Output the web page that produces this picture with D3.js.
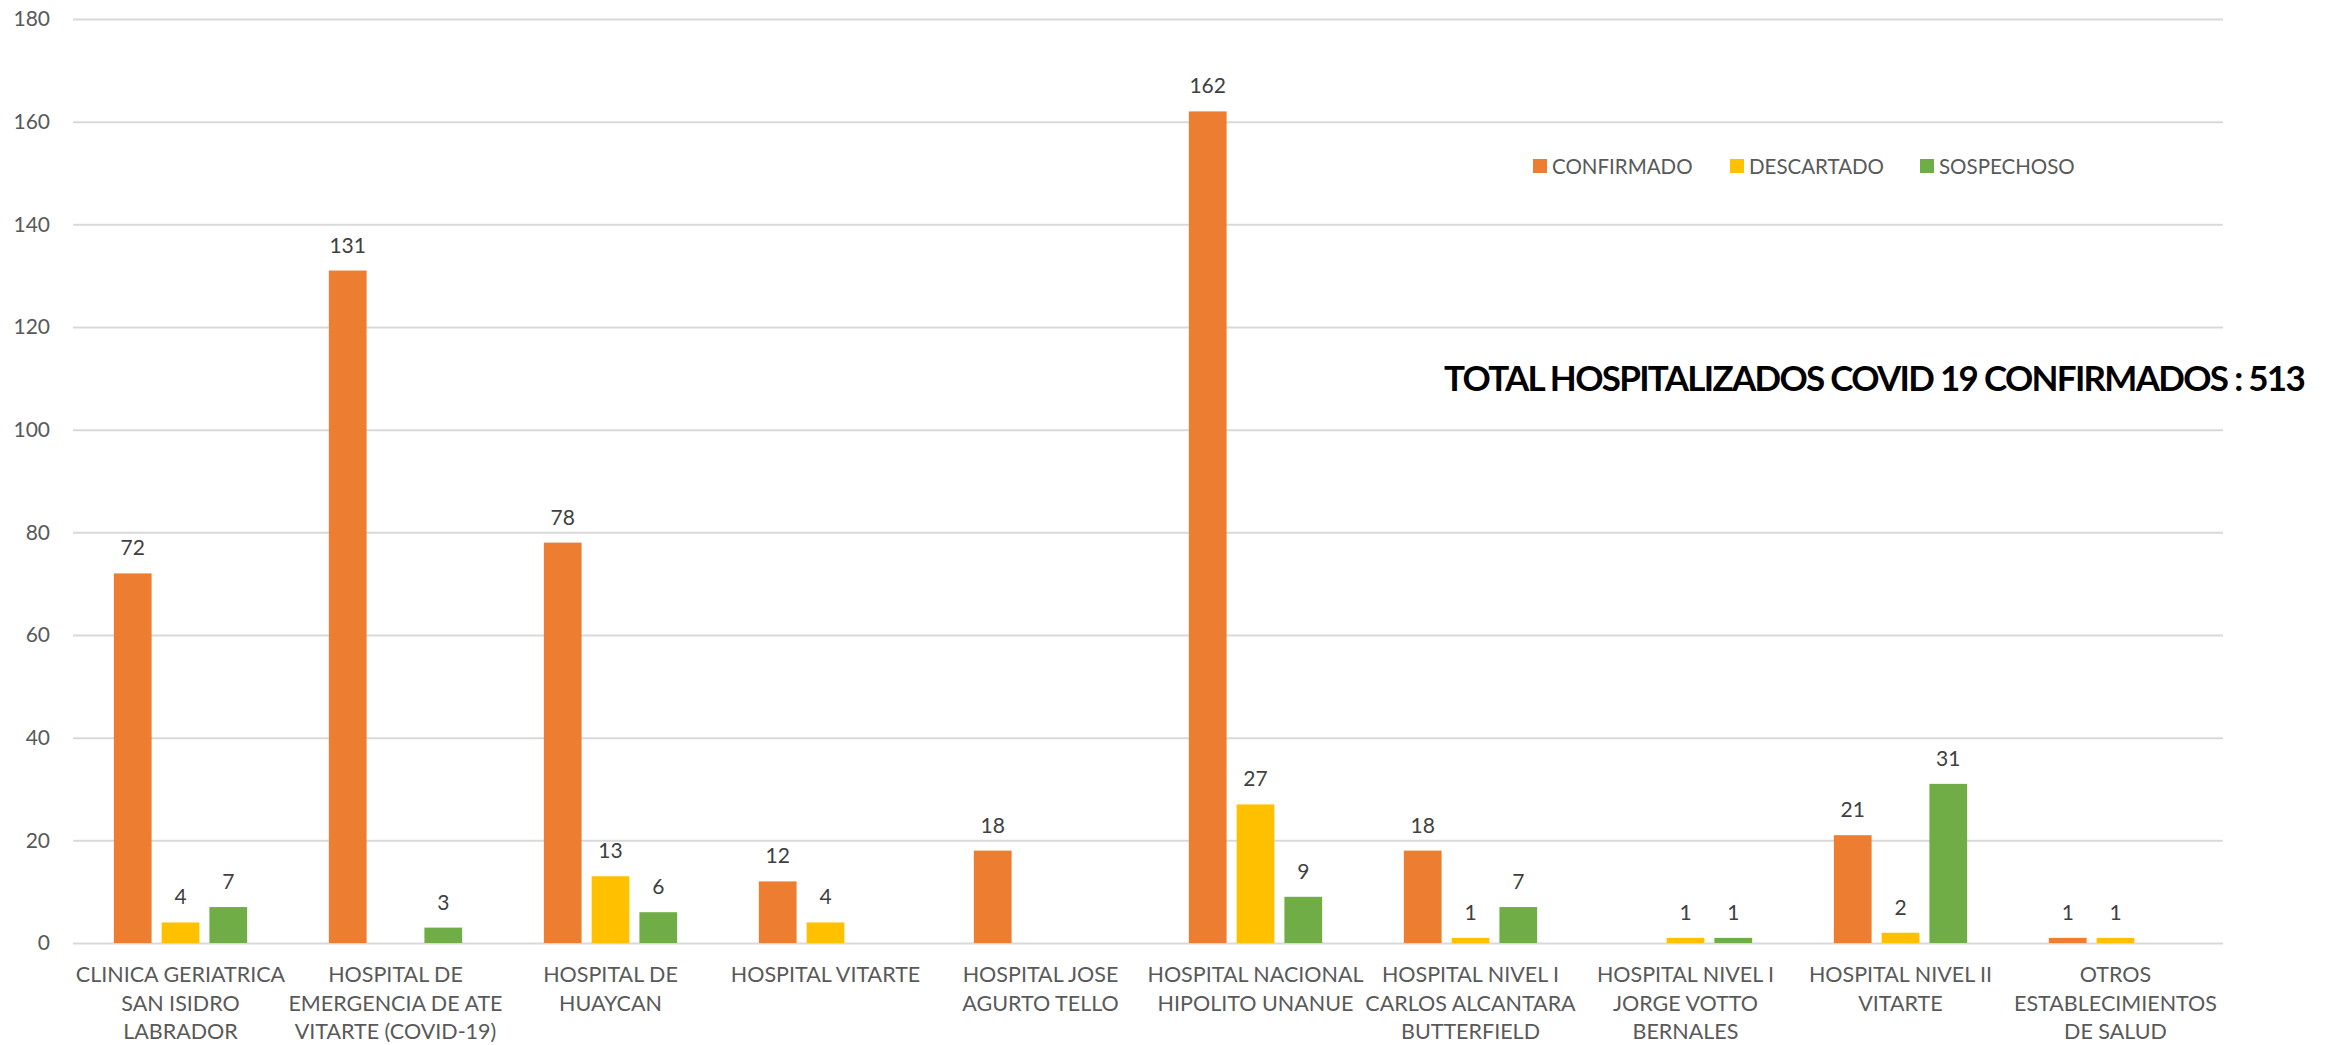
<!DOCTYPE html>
<html><head><meta charset="utf-8">
<script src="https://cdn.jsdelivr.net/npm/d3@7"></script>
<style>body{margin:0;background:#fff;} svg{display:block;font-family:Lato,"Open Sans",sans-serif;}</style>
</head><body>
<svg id="c" width="2333" height="1045"></svg>
<script>
const categories = [
  ["CLINICA GERIATRICA","SAN ISIDRO","LABRADOR"],
  ["HOSPITAL DE","EMERGENCIA DE ATE","VITARTE (COVID-19)"],
  ["HOSPITAL DE","HUAYCAN"],
  ["HOSPITAL VITARTE"],
  ["HOSPITAL JOSE","AGURTO TELLO"],
  ["HOSPITAL NACIONAL","HIPOLITO UNANUE"],
  ["HOSPITAL NIVEL I","CARLOS ALCANTARA","BUTTERFIELD"],
  ["HOSPITAL NIVEL I","JORGE VOTTO","BERNALES"],
  ["HOSPITAL NIVEL II","VITARTE"],
  ["OTROS","ESTABLECIMIENTOS","DE SALUD"]
];
const seriesNames = ["CONFIRMADO","DESCARTADO","SOSPECHOSO"];
const confirmado = [72,131,78,12,18,162,18,null,21,1];
const descartado = [4,null,13,4,null,27,1,1,2,1];
const sospechoso = [7,3,6,null,null,9,7,1,31,null];
const yTicks = [0,20,40,60,80,100,120,140,160,180];
const colors = ["#ED7D31","#FFC000","#70AD47"];
const title = "TOTAL HOSPITALIZADOS COVID 19 CONFIRMADOS : 513";

const svg = d3.select("#c");
const pL = 73, pR = 2223, pT = 19, pB = 943;
const catIdx = d3.range(categories.length);
const x0 = d3.scaleBand().domain(catIdx).range([pL,pR]).paddingInner(0.38).paddingOuter(0.19);
const x1 = d3.scaleBand().domain(seriesNames).range([0,x0.bandwidth()]).paddingInner(0.21).paddingOuter(0);
const y = d3.scaleLinear().domain([0,180]).range([pB,pT]);

// gridlines
const yAxis = d3.axisLeft(y).tickValues(yTicks).tickSize(-(pR-pL)).tickPadding(23);
const ga = svg.append("g").attr("transform",`translate(${pL},0)`).call(yAxis);
ga.select(".domain").remove();
ga.selectAll(".tick line").attr("stroke","#d9d9d9").attr("stroke-width",2);
ga.selectAll(".tick text").attr("fill","#595959").attr("font-size",21).attr("font-family","Lato,'Open Sans',sans-serif");

const all = [confirmado, descartado, sospechoso];
const data = [];
catIdx.forEach(i => seriesNames.forEach((s,j) => { if (all[j][i] != null) data.push({i, s, j, v: all[j][i]}); }));

svg.append("g").selectAll("rect").data(data).join("rect")
  .attr("x", d => x0(d.i) + x1(d.s))
  .attr("width", x1.bandwidth())
  .attr("y", d => y(d.v))
  .attr("height", d => y(0) - y(d.v))
  .attr("fill", d => colors[d.j]);

svg.append("g").selectAll("text").data(data).join("text")
  .attr("x", d => x0(d.i) + x1(d.s) + x1.bandwidth()/2)
  .attr("y", d => y(d.v) - 18)
  .attr("text-anchor","middle").attr("font-size",21).attr("fill","#404040")
  .text(d => d.v);

// category labels
const cl = svg.append("g").selectAll("text").data(catIdx).join("text")
  .attr("x", i => x0(i) + x0.bandwidth()/2)
  .attr("y", 982)
  .attr("text-anchor","middle").attr("font-size",21.5).attr("fill","#595959");
cl.each(function(i){
  const t = d3.select(this);
  categories[i].forEach((line,k) => t.append("tspan").attr("x", x0(i)+x0.bandwidth()/2).attr("dy", k===0?0:28.5).text(line));
});

// legend
const legX = [1533, 1730, 1920];
const lg = svg.append("g").selectAll("g").data(seriesNames).join("g")
  .attr("transform",(d,k)=>`translate(${legX[k]},159)`);
lg.append("rect").attr("x",0).attr("y",0).attr("width",14).attr("height",14).attr("fill",(d,k)=>colors[k]);
lg.append("text").attr("x",19).attr("y",14.5).attr("font-size",20.5).attr("fill","#595959").text(d=>d);

// title: fit to target width by tightening letter spacing
const tt = svg.append("text").attr("x",1444).attr("y",391).attr("font-size",35).attr("font-weight","bold").attr("fill","#000").text(title);
const natural = tt.node().getComputedTextLength();
const targetW = 860;
if (natural > targetW) tt.attr("letter-spacing", ((targetW - natural) / (title.length)).toFixed(2) + "px");
</script>
</body></html>
